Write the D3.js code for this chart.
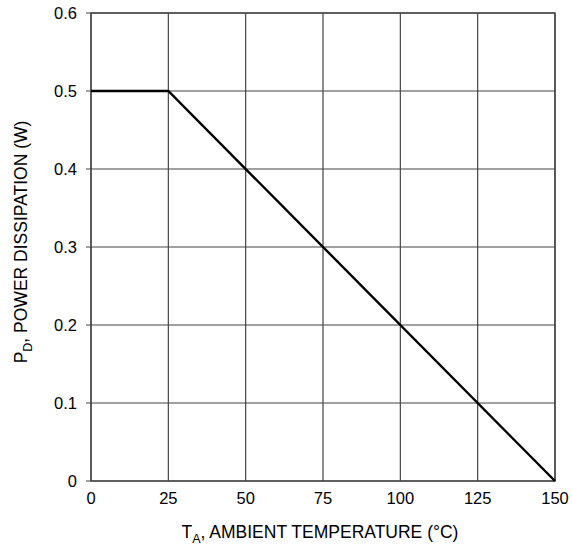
<!DOCTYPE html>
<html><head><meta charset="utf-8">
<script src="https://cdn.jsdelivr.net/npm/d3@7"></script>
<style>body{margin:0;background:#fff}svg{display:block}text{font-family:"Liberation Sans",Arial,sans-serif;fill:#000}</style>
</head><body>
<svg id="c" width="572" height="545"></svg>
<script>
const xTicks = [0, 25, 50, 75, 100, 125, 150];
const yTicks = [0, 0.1, 0.2, 0.3, 0.4, 0.5, 0.6];
const temps = [0, 25, 150];
const power = [0.5, 0.5, 0];

const svg = d3.select("#c");
const L = 91, R = 555, T = 13, B = 481;
const x = d3.scaleLinear().domain([0, 150]).range([L, R]);
const y = d3.scaleLinear().domain([0, 0.6]).range([B, T]);

const g = svg.append("g");
// grid
g.selectAll(".vg").data(xTicks).enter().append("line")
  .attr("x1", d => x(d)).attr("x2", d => x(d)).attr("y1", T).attr("y2", B)
  .attr("stroke", "#444").attr("stroke-width", 1.2);
g.selectAll(".hg").data(yTicks).enter().append("line")
  .attr("x1", L - 5).attr("x2", R).attr("y1", d => y(d)).attr("y2", d => y(d))
  .attr("stroke", "#444").attr("stroke-width", 1.2);
// frame
g.append("rect").attr("x", L).attr("y", T).attr("width", R - L).attr("height", B - T)
  .attr("fill", "none").attr("stroke", "#444").attr("stroke-width", 1.4);

// tick labels
g.selectAll(".xl").data(xTicks).enter().append("text")
  .attr("x", d => x(d)).attr("y", 504).attr("text-anchor", "middle")
  .attr("font-size", 16.5).text(d => d);
g.selectAll(".yl").data(yTicks).enter().append("text")
  .attr("x", 77).attr("y", d => y(d) + 6).attr("text-anchor", "end")
  .attr("font-size", 16.5).text(d => d === 0 ? "0" : d.toFixed(1));

// data line
const line = d3.line().x(d => x(d[0])).y(d => y(d[1]));
g.append("path").datum(temps.map((t, i) => [t, power[i]]))
  .attr("d", line).attr("fill", "none").attr("stroke", "#000").attr("stroke-width", 2.4);

// axis titles
const xt = svg.append("text").attr("x", 320).attr("y", 538).attr("text-anchor", "middle").attr("font-size", 17.5);
xt.append("tspan").text("T");
xt.append("tspan").attr("font-size", 12.5).attr("dy", 4.5).text("A");
xt.append("tspan").attr("dy", -4.5).text(", AMBIENT TEMPERATURE (°C)");

const yt = svg.append("text").attr("transform", "translate(27,242) rotate(-90)").attr("text-anchor", "middle").attr("font-size", 17.5);
yt.append("tspan").text("P");
yt.append("tspan").attr("font-size", 12.5).attr("dy", 4.5).text("D");
yt.append("tspan").attr("dy", -4.5).text(", POWER DISSIPATION (W)");
</script>
</body></html>
